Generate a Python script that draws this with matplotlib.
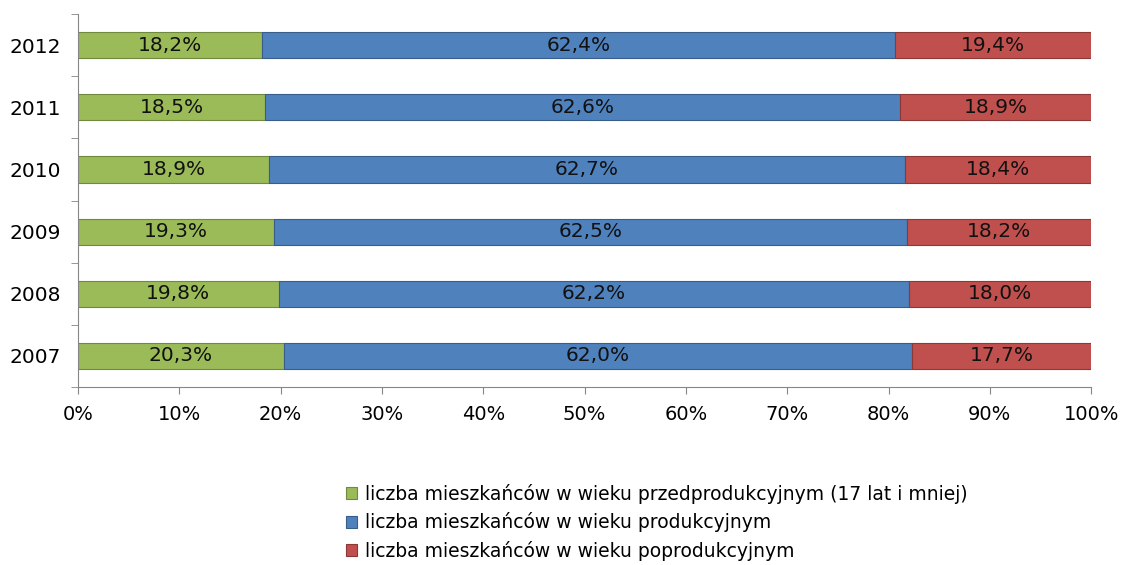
import numpy as np
import matplotlib.pyplot as plt

years = ['2007', '2008', '2009', '2010', '2011', '2012']
przed = [20.3, 19.8, 19.3, 18.9, 18.5, 18.2]
prod = [62.0, 62.2, 62.5, 62.7, 62.6, 62.4]
po = [17.7, 18.0, 18.2, 18.4, 18.9, 19.4]
labels = ['liczba mieszkańców w wieku przedprodukcyjnym (17 lat i mniej)',
          'liczba mieszkańców w wieku produkcyjnym',
          'liczba mieszkańców w wieku poprodukcyjnym']
colors = ['#9BBB59', '#4F81BD', '#C0504D']
edges = ['#71893F', '#385D8A', '#8C3836']

fig = plt.figure(figsize=(11.22, 5.65), dpi=100)
ax = fig.add_axes([0.0695, 0.315, 0.903, 0.66])

y = np.arange(len(years))
left = np.zeros(len(years))
for vals, c, ec, lab in zip([przed, prod, po], colors, edges, labels):
    vals = np.array(vals)
    ax.barh(y, vals, left=left, height=0.42, color=c, edgecolor=ec,
            linewidth=0.8, label=lab)
    for yi, l, v in zip(y, left, vals):
        ax.text(l + v / 2, yi, f'{v:.1f}%'.replace('.', ','), ha='center',
                va='center', fontsize=14.5, color='#111111')
    left = left + vals

ax.set_xlim(0, 100)
ax.set_ylim(-0.5, len(years) - 0.5)
ax.set_xticks(np.arange(0, 101, 10))
ax.set_xticklabels([f'{t}%' for t in range(0, 101, 10)])
ax.set_yticks(y)
ax.set_yticklabels(years)
ax.set_yticks(np.arange(-0.5, len(years), 1), minor=True)
ax.tick_params(axis='y', which='major', length=0, labelsize=14.5, pad=12)
ax.tick_params(axis='y', which='minor', length=5, color='#868686')
ax.tick_params(axis='x', length=5, color='#868686', labelsize=14, pad=8)
for s in ['top', 'right']:
    ax.spines[s].set_visible(False)
for s in ['left', 'bottom']:
    ax.spines[s].set_color('#868686')

ax.legend(loc='upper left', bbox_to_anchor=(0.257, -0.24), frameon=False,
          fontsize=13.5, handlelength=0.6, handleheight=0.6, handletextpad=0.4,
          labelspacing=0.45, borderaxespad=0)

fig.savefig('out.png', dpi=100)
